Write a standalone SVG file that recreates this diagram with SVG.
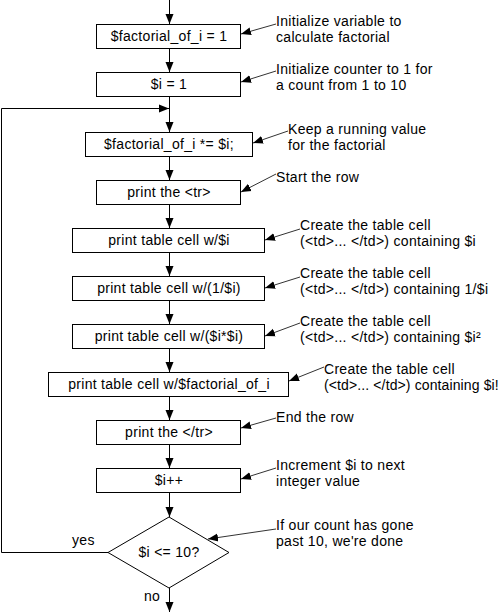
<svg xmlns="http://www.w3.org/2000/svg" width="501" height="613" viewBox="0 0 501 613">
<style>
text{font-family:"Liberation Sans",Arial,sans-serif;font-size:14px;letter-spacing:0.3px;fill:#000}
.c{text-anchor:middle}
.t{letter-spacing:0.12px}
rect,polygon.d{fill:#fff;stroke:#000;stroke-width:1}
.ln{fill:none;stroke:#000;stroke-width:1}
.an{fill:none;stroke:#333;stroke-width:1}
</style>
<defs>
<marker id="ah" markerUnits="userSpaceOnUse" markerWidth="10" markerHeight="10" viewBox="0 0 10 10" refX="10" refY="5" orient="auto">
<path d="M0,1 L10,5 L0,9 Z" fill="#000"/>
</marker>
</defs>
<rect width="501" height="613" fill="#fff" style="stroke:none"/>
<g id="connectors">
<line class="ln" x1="169.5" y1="0" x2="169.5" y2="24" marker-end="url(#ah)"/>
<line class="ln" x1="169.5" y1="48" x2="169.5" y2="72" marker-end="url(#ah)"/>
<line class="ln" x1="169.5" y1="96" x2="169.5" y2="132" marker-end="url(#ah)"/>
<line class="ln" x1="169.5" y1="156" x2="169.5" y2="180" marker-end="url(#ah)"/>
<line class="ln" x1="169.5" y1="204" x2="169.5" y2="228" marker-end="url(#ah)"/>
<line class="ln" x1="169.5" y1="252" x2="169.5" y2="276" marker-end="url(#ah)"/>
<line class="ln" x1="169.5" y1="300" x2="169.5" y2="324" marker-end="url(#ah)"/>
<line class="ln" x1="169.5" y1="348" x2="169.5" y2="372" marker-end="url(#ah)"/>
<line class="ln" x1="169.5" y1="396" x2="169.5" y2="420" marker-end="url(#ah)"/>
<line class="ln" x1="169.5" y1="444" x2="169.5" y2="468" marker-end="url(#ah)"/>
<line class="ln" x1="169.5" y1="492" x2="169.5" y2="517" marker-end="url(#ah)"/>
<line class="ln" x1="169.5" y1="588" x2="169.5" y2="612" marker-end="url(#ah)"/>
<polyline class="ln" points="108,552.5 1.5,552.5 1.5,108.5 169,108.5" marker-end="url(#ah)"/>
<line class="an" x1="276" y1="24" x2="241" y2="34" marker-end="url(#ah)"/>
<line class="an" x1="276" y1="71" x2="241" y2="82" marker-end="url(#ah)"/>
<line class="an" x1="288" y1="131" x2="253" y2="143" marker-end="url(#ah)"/>
<line class="an" x1="276" y1="174" x2="241" y2="192" marker-end="url(#ah)"/>
<line class="an" x1="300" y1="229" x2="265" y2="240" marker-end="url(#ah)"/>
<line class="an" x1="300" y1="277" x2="265" y2="288" marker-end="url(#ah)"/>
<line class="an" x1="300" y1="323" x2="265" y2="336" marker-end="url(#ah)"/>
<line class="an" x1="324" y1="367" x2="289" y2="381" marker-end="url(#ah)"/>
<line class="an" x1="276" y1="418" x2="241" y2="428" marker-end="url(#ah)"/>
<line class="an" x1="276" y1="468" x2="241" y2="479" marker-end="url(#ah)"/>
<line class="an" x1="276" y1="529" x2="208" y2="539" marker-end="url(#ah)"/>
<text x="72" y="545">yes</text>
<text x="144" y="601">no</text>
</g>
<g id="n1"><rect x="96.5" y="24.5" width="144" height="24"/><text class="c" x="169" y="41">$factorial_of_i = 1</text></g>
<g id="n2"><rect x="96.5" y="72.5" width="144" height="24"/><text class="c" x="169" y="89">$i = 1</text></g>
<g id="n3"><rect x="85.5" y="132.5" width="167" height="24"/><text class="c" x="169" y="149">$factorial_of_i *= $i;</text></g>
<g id="n4"><rect x="96.5" y="180.5" width="144" height="24"/><text class="c" x="169" y="197">print the &lt;tr&gt;</text></g>
<g id="n5"><rect x="72.5" y="228.5" width="192" height="24"/><text class="c" x="169" y="245">print table cell w/$i</text></g>
<g id="n6"><rect x="72.5" y="276.5" width="192" height="24"/><text class="c" x="169" y="293">print table cell w/(1/$i)</text></g>
<g id="n7"><rect x="72.5" y="324.5" width="192" height="24"/><text class="c" x="169" y="341">print table cell w/($i*$i)</text></g>
<g id="n8"><rect x="48.5" y="372.5" width="240" height="24"/><text class="c" x="169" y="389">print table cell w/$factorial_of_i</text></g>
<g id="n9"><rect x="96.5" y="420.5" width="144" height="24"/><text class="c" x="169" y="437">print the &lt;/tr&gt;</text></g>
<g id="n10"><rect x="96.5" y="468.5" width="144" height="24"/><text class="c" x="169" y="485">$i++</text></g>
<g id="n11"><polygon class="d" points="169,517 229,552.5 169,588 108,552.5"/><text class="c" x="169" y="557">$i &lt;= 10?</text></g>
<g id="a1"><text x="276" y="26">Initialize variable to</text><text x="276" y="42">calculate factorial</text></g>
<g id="a2"><text x="276" y="74">Initialize counter to 1 for</text><text x="276" y="90">a count from 1 to 10</text></g>
<g id="a3"><text x="288" y="134">Keep a running value</text><text x="288" y="150">for the factorial</text></g>
<g id="a4"><text x="276" y="182">Start the row</text></g>
<g id="a5"><text x="300" y="230">Create the table cell</text><text x="300" y="246">(&lt;td&gt;... &lt;/td&gt;) containing $i</text></g>
<g id="a6"><text x="300" y="278">Create the table cell</text><text x="300" y="294">(&lt;td&gt;... &lt;/td&gt;) containing 1/$i</text></g>
<g id="a7"><text x="300" y="326">Create the table cell</text><text x="300" y="342">(&lt;td&gt;... &lt;/td&gt;) containing $i²</text></g>
<g id="a8"><text x="324" y="374">Create the table cell</text><text class="t" x="324" y="390">(&lt;td&gt;... &lt;/td&gt;) containing $i!</text></g>
<g id="a9"><text x="276" y="422">End the row</text></g>
<g id="a10"><text x="276" y="470">Increment $i to next</text><text x="276" y="486">integer value</text></g>
<g id="a11"><text x="276" y="530">If our count has gone</text><text x="276" y="546">past 10, we're done</text></g>
</svg>
